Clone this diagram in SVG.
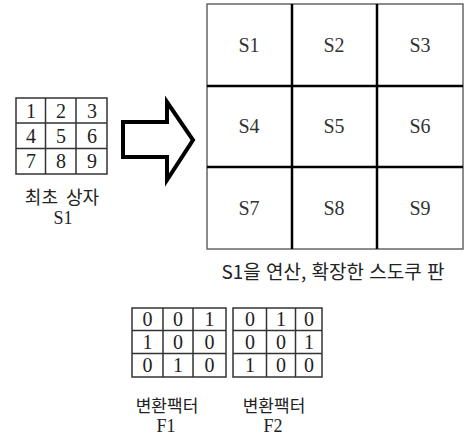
<svg xmlns="http://www.w3.org/2000/svg" width="465" height="438" viewBox="0 0 465 438">
<style>
.cell{font-family:"Liberation Serif","Noto Sans CJK KR",serif;font-size:20px;fill:#222;text-anchor:middle}
.big{font-family:"Liberation Serif","Noto Sans CJK KR",serif;font-size:20px;fill:#333;text-anchor:middle}
.lbl{font-family:"Noto Sans CJK KR","Liberation Serif",sans-serif;font-size:17px;fill:#222;text-anchor:middle}
.lat{font-family:"Liberation Serif","Noto Sans CJK KR",serif;font-size:18px;fill:#222;text-anchor:middle}
.thin{fill:none;stroke:#333;stroke-width:1.5}
.thick{fill:none;stroke:#000;stroke-width:2.5}
</style>
<rect width="465" height="438" fill="#fff"/>
<g id="initial-box">
<rect class="thin" x="16" y="98" width="91" height="76"/>
<path class="thin" d="M45.5 98V174M76 98V174M16 123H107M16 148.5H107"/>
<text class="cell" x="31" y="118">1</text><text class="cell" x="61" y="118">2</text><text class="cell" x="92" y="118">3</text>
<text class="cell" x="31" y="143">4</text><text class="cell" x="61" y="143">5</text><text class="cell" x="92" y="143">6</text>
<text class="cell" x="31" y="168">7</text><text class="cell" x="61" y="168">8</text><text class="cell" x="92" y="168">9</text>
<text class="lbl" x="62" y="204" style="font-size:18px;word-spacing:4px">최초 상자</text>
<text class="lat" x="63" y="224">S1</text>
</g>
<g id="connectors">
<path d="M123 122H167V102L193 140L167 180V157H123Z" fill="none" stroke="#000" stroke-width="4" stroke-linejoin="miter"/>
</g>
<g id="sudoku-board">
<rect x="207" y="4" width="256" height="245" fill="none" stroke="#666" stroke-width="1.5"/>
<path class="thick" d="M292 4V249M377 4V249M207 86H463M207 167H463"/>
<text class="big" x="249" y="52">S1</text><text class="big" x="334" y="52">S2</text><text class="big" x="420" y="52">S3</text>
<text class="big" x="249" y="133">S4</text><text class="big" x="334" y="133">S5</text><text class="big" x="420" y="133">S6</text>
<text class="big" x="249" y="215">S7</text><text class="big" x="334" y="215">S8</text><text class="big" x="420" y="215">S9</text>
<text class="lbl" x="333" y="279" style="font-size:19px;word-spacing:1px">S1을 연산, 확장한 스도쿠 판</text>
</g>
<g id="factor-f1">
<rect class="thin" x="132" y="308" width="94" height="69"/>
<path class="thin" d="M163 308V377M193 308V377M132 330.5H226M132 353.5H226"/>
<text class="cell" x="147.5" y="326">0</text><text class="cell" x="178" y="326">0</text><text class="cell" x="209.5" y="326">1</text>
<text class="cell" x="147.5" y="349">1</text><text class="cell" x="178" y="349">0</text><text class="cell" x="209.5" y="349">0</text>
<text class="cell" x="147.5" y="372">0</text><text class="cell" x="178" y="372">1</text><text class="cell" x="209.5" y="372">0</text>
<text class="lbl" x="167" y="412">변환팩터</text>
<text class="lat" x="166" y="432">F1</text>
</g>
<g id="factor-f2">
<rect class="thin" x="233" y="308" width="89" height="69"/>
<path class="thin" d="M266.5 308V377M295.5 308V377M233 330.5H322M233 353.5H322"/>
<text class="cell" x="250" y="326">0</text><text class="cell" x="281" y="326">1</text><text class="cell" x="309" y="326">0</text>
<text class="cell" x="250" y="349">0</text><text class="cell" x="281" y="349">0</text><text class="cell" x="309" y="349">1</text>
<text class="cell" x="250" y="372">1</text><text class="cell" x="281" y="372">0</text><text class="cell" x="309" y="372">0</text>
<text class="lbl" x="274" y="412">변환팩터</text>
<text class="lat" x="273" y="432">F2</text>
</g>
</svg>
